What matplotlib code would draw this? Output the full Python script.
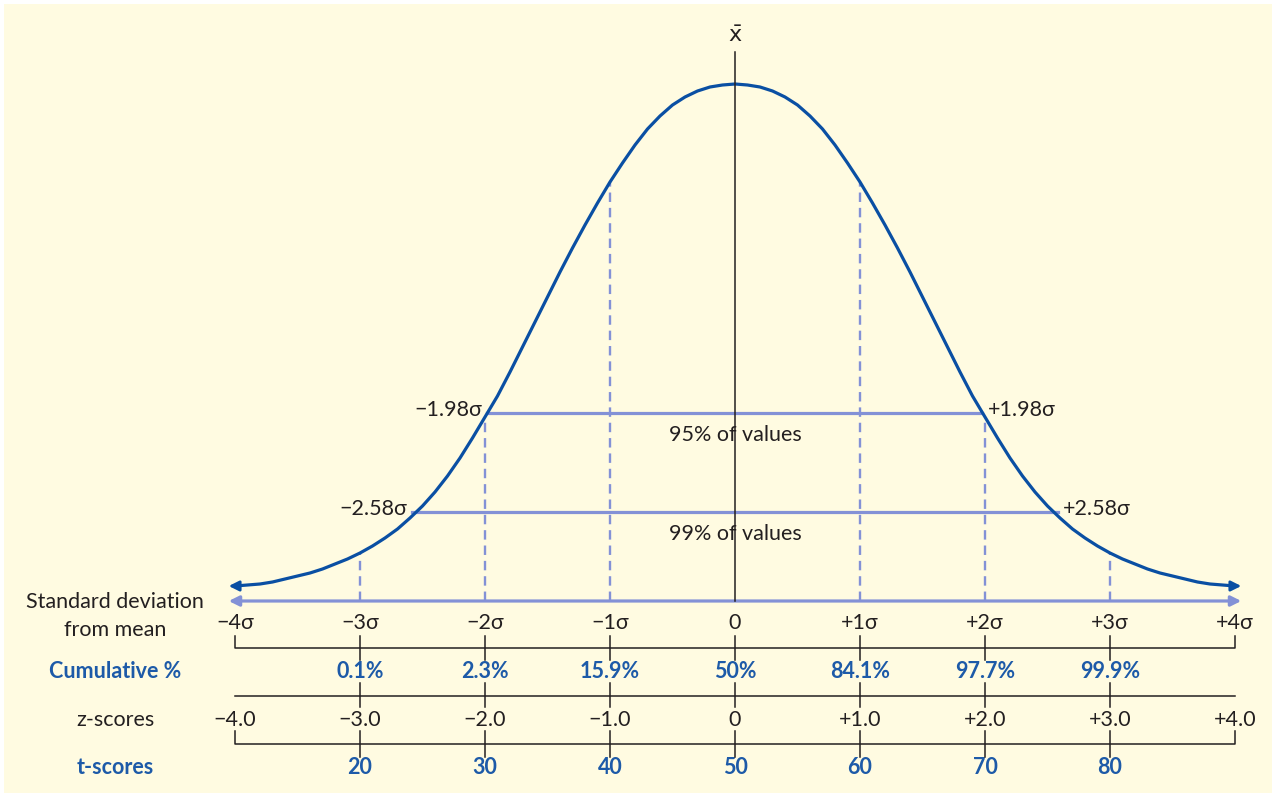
import matplotlib.pyplot as plt
from matplotlib.patches import Rectangle
import numpy as np

plt.rcParams['font.family'] = ['Lato', 'DejaVu Sans']

# --- curve: height above the axis (peak = 517), every 0.1 sigma
# (right half; the left half is its mirror image) ---
half_x = [0.0, 0.1, 0.2, 0.3, 0.4, 0.5, 0.6, 0.7, 0.8, 0.9,
          1.0, 1.1, 1.2, 1.3, 1.4, 1.5, 1.6, 1.7, 1.8, 1.9,
          2.0, 2.1, 2.2, 2.3, 2.4, 2.5, 2.6, 2.7, 2.8, 2.9,
          3.0, 3.1, 3.2, 3.3, 3.4, 3.5, 3.6, 3.7, 3.8, 3.9, 4.0]
half_h = [517, 516, 514, 510, 504, 496, 485, 472, 456, 438,
          419, 398, 376, 353, 329, 304, 279, 254, 229, 205,
          184, 163, 143, 125, 109, 95, 83, 72, 63, 55,
          48, 42, 37, 32, 28, 25, 22, 19, 17, 16, 15]

# --- guide lines and bands ---
guide_x = [-3, -2, -1, 1, 2, 3]
band_sigma = [1.98, 2.58]
band_h = [188, 89]
band_labels = ['95% of values', '99% of values']
band_left = ['\u22121.98σ', '\u22122.58σ']
band_right = ['+1.98σ', '+2.58σ']

# --- scale rows ---
sigma_pos = [-4, -3, -2, -1, 0, 1, 2, 3, 4]
sigma_labels = ['\u22124σ', '\u22123σ', '\u22122σ', '\u22121σ', '0', '+1σ', '+2σ', '+3σ', '+4σ']
cum_pos = [-3, -2, -1, 0, 1, 2, 3]
cum_labels = ['0.1%', '2.3%', '15.9%', '50%', '84.1%', '97.7%', '99.9%']
z_labels = ['\u22124.0', '\u22123.0', '\u22122.0', '\u22121.0', '0', '+1.0', '+2.0', '+3.0', '+4.0']
t_pos = [-3, -2, -1, 0, 1, 2, 3]
t_labels = ['20', '30', '40', '50', '60', '70', '80']

BLUE = '#0a4fa3'
LILAC = '#8391d6'
INK = '#231f20'
TBLUE = '#1d5aa8'
BG = '#fffbe1'
FS = 15.5

PEAK = float(half_h[0])


def py(p):
    # pixel row -> data y (axis line at row 601, peak 517 px above it)
    return (601 - p) / 517.0


fig = plt.figure(figsize=(12.72, 7.93), dpi=100)
fig.patch.set_facecolor('white')
ax = fig.add_axes([0, 0, 1, 1])
ax.set_facecolor('none')
ax.set_xlim(-4 - 235 / 125, 4 + 37 / 125)
ax.set_ylim(py(793), py(0))
ax.axis('off')
ax.add_patch(Rectangle((4 / 1272, 0), 1, (793 - 4) / 793, transform=fig.transFigure,
                       facecolor=BG, edgecolor='none', zorder=-10))

# curve
cx = [-v for v in half_x[:0:-1]] + half_x
ch = [h / PEAK for h in half_h[:0:-1] + half_h]
ax.plot(cx, ch, color=BLUE, lw=2.3, solid_joinstyle='round', zorder=4)
for s in (-1, 1):
    ax.annotate('', xy=(s * 4.05, ch[-1]), xytext=(s * 3.97, ch[-1]),
                arrowprops=dict(arrowstyle='-|>', color=BLUE, lw=2.0,
                                mutation_scale=15, shrinkA=0, shrinkB=0), zorder=4)

# horizontal axis with arrows
ax.annotate('', xy=(4.05, 0), xytext=(-4.05, 0),
            arrowprops=dict(arrowstyle='<|-|>', color=LILAC, lw=2.3,
                            mutation_scale=15, shrinkA=0, shrinkB=0), zorder=3)

# dashed guides up to the curve
lookup = dict(zip(half_x, half_h))
for gx in guide_x:
    ax.plot([gx, gx], [0, lookup[abs(gx)] / PEAK], color=LILAC, lw=1.7,
            ls=(0, (4, 2.5)), zorder=2)

# 95 / 99 bands
for s, h, lab, l, r in zip(band_sigma, band_h, band_labels, band_left, band_right):
    y = h / PEAK
    ax.plot([-s, s], [y, y], color=LILAC, lw=2.3, zorder=2)
    ax.text(-s - 0.04, y + 0.006, l, ha='right', va='center', fontsize=FS, color=INK)
    ax.text(s + 0.04, y + 0.006, r, ha='left', va='center', fontsize=FS, color=INK)
    ax.text(0, y - 0.042, lab, ha='center', va='center', fontsize=FS, color=INK, zorder=5)

# centre line and x-bar
ax.plot([0, 0], [0, py(52)], color=INK, lw=1.1, zorder=5)
ax.text(0, py(36), r'$\bar{\mathrm{x}}$', ha='center', va='center', fontsize=16, color=INK)

# --- scale rows ---
lx = -4 - 120 / 125  # centre of the row titles
ax.text(lx, py(602), 'Standard deviation', ha='center', va='center', fontsize=FS, color=INK)
ax.text(lx, py(630), 'from mean', ha='center', va='center', fontsize=FS, color=INK)
ax.text(lx, py(672), 'Cumulative %', ha='center', va='center', fontsize=FS,
        color=TBLUE, fontweight='bold')
ax.text(lx, py(720), 'z-scores', ha='center', va='center', fontsize=FS, color=INK)
ax.text(lx, py(768), 't-scores', ha='center', va='center', fontsize=FS,
        color=TBLUE, fontweight='bold')

for x, lab in zip(sigma_pos, sigma_labels):
    ax.text(x, py(623), lab, ha='center', va='center', fontsize=FS, color=INK)
for x, lab in zip(cum_pos, cum_labels):
    ax.text(x, py(672), lab, ha='center', va='center', fontsize=FS, color=TBLUE,
            fontweight='bold')
for x, lab in zip(sigma_pos, z_labels):
    ax.text(x, py(720), lab, ha='center', va='center', fontsize=FS, color=INK)
for x, lab in zip(t_pos, t_labels):
    ax.text(x, py(768), lab, ha='center', va='center', fontsize=FS, color=TBLUE,
            fontweight='bold')

# bracket lines
lk = dict(color=INK, lw=1.1, zorder=3)
ax.plot([-4, -4, 4, 4], [py(636), py(648), py(648), py(636)], **lk)
ax.plot([-4, 4], [py(696), py(696)], **lk)
ax.plot([-4, -4, 4, 4], [py(731), py(744), py(744), py(731)], **lk)
for x in cum_pos:
    ax.plot([x, x], [py(636), py(660)], **lk)
    ax.plot([x, x], [py(683), py(707)], **lk)
    ax.plot([x, x], [py(731), py(757)], **lk)

fig.savefig('out.png', dpi=100, facecolor=fig.get_facecolor())
